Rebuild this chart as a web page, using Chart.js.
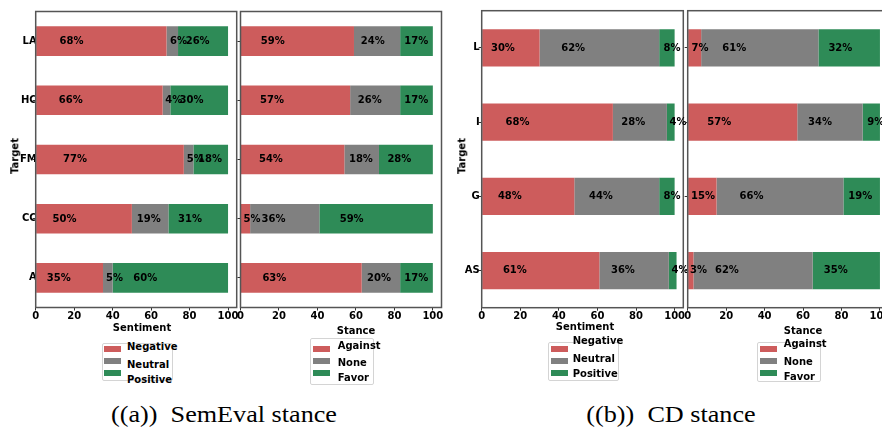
<!DOCTYPE html>
<html>
<head>
<meta charset="utf-8">
<script src="https://cdn.jsdelivr.net/npm/chart.js@4.4.1/dist/chart.umd.min.js"></script>
<style>
  html, body { margin: 0; padding: 0; background: #fff; }
  body { width: 882px; height: 428px; position: relative; overflow: hidden; font-family: "DejaVu Sans", sans-serif; }
  canvas { position: absolute; }
  .lbl { position: absolute; font-weight: bold; font-size: 10px; line-height: 12px; white-space: nowrap; color: #000; transform: scaleY(1.12); }
  .lbl.c { transform: translateX(-50%) scaleY(1.12); }
  .ytitle { position: absolute; font-weight: bold; font-size: 10px; line-height: 12px; white-space: nowrap; transform: translate(-50%, -50%) rotate(-90deg) scaleY(1.12); }
  .legend-box { position: absolute; border: 1px solid #d4d4d4; border-radius: 2px; background: #fff; }
  .patch { position: absolute; width: 17px; height: 6px; }
  .caption { position: absolute; font-family: "Liberation Serif", "Times New Roman", serif; font-size: 24px; line-height: 24px; white-space: nowrap; transform: translateX(-50%) scaleX(1.09); }
</style>
</head>
<body>
<canvas id="semSentiment" width="242" height="330" style="left:0px;top:0px"></canvas>
<canvas id="semStance" width="210" height="330" style="left:236px;top:0px"></canvas>
<canvas id="cdSentiment" width="250" height="330" style="left:440px;top:0px"></canvas>
<canvas id="cdStance" width="210" height="330" style="left:683px;top:0px"></canvas>

<!-- judul sumbu -->
<div class="ytitle" style="left:14.5px;top:156px">Target</div>
<div class="ytitle" style="left:462px;top:156px">Target</div>
<div class="lbl c" style="left:142px;top:322px">Sentiment</div>
<div class="lbl c" style="left:356px;top:325px">Stance</div>
<div class="lbl c" style="left:585px;top:321px">Sentiment</div>
<div class="lbl c" style="left:803px;top:325px">Stance</div>

<!-- legend (a) sentiment -->
<div class="legend-box" style="left:101.7px;top:342.7px;width:69px;height:36px"></div>
<div class="patch" style="left:104px;top:346px;background:#CD5C5C"></div>
<div class="patch" style="left:104px;top:357.7px;background:#808080"></div>
<div class="patch" style="left:104px;top:370px;background:#2E8B57"></div>
<div class="lbl" style="left:127px;top:341.3px">Negative</div>
<div class="lbl" style="left:127px;top:359px">Neutral</div>
<div class="lbl" style="left:127px;top:374px">Positive</div>

<!-- legend (a) stance -->
<div class="legend-box" style="left:310px;top:337.7px;width:62px;height:45px"></div>
<div class="patch" style="left:313px;top:346px;background:#CD5C5C"></div>
<div class="patch" style="left:313px;top:357.7px;background:#808080"></div>
<div class="patch" style="left:313px;top:370px;background:#2E8B57"></div>
<div class="lbl" style="left:337.7px;top:339.7px">Against</div>
<div class="lbl" style="left:337.7px;top:357.3px">None</div>
<div class="lbl" style="left:337.7px;top:372px">Favor</div>

<!-- legend (b) sentiment -->
<div class="legend-box" style="left:548.3px;top:342.3px;width:69px;height:37px"></div>
<div class="patch" style="left:551px;top:346px;background:#CD5C5C"></div>
<div class="patch" style="left:551px;top:357.7px;background:#808080"></div>
<div class="patch" style="left:551px;top:370px;background:#2E8B57"></div>
<div class="lbl" style="left:572.7px;top:335px">Negative</div>
<div class="lbl" style="left:572.7px;top:352.7px">Neutral</div>
<div class="lbl" style="left:572.7px;top:367.7px">Positive</div>

<!-- legend (b) stance -->
<div class="legend-box" style="left:757.3px;top:342.3px;width:62px;height:38px"></div>
<div class="patch" style="left:760px;top:346px;background:#CD5C5C"></div>
<div class="patch" style="left:760px;top:357.7px;background:#808080"></div>
<div class="patch" style="left:760px;top:370px;background:#2E8B57"></div>
<div class="lbl" style="left:783.7px;top:338.3px">Against</div>
<div class="lbl" style="left:783.7px;top:356px">None</div>
<div class="lbl" style="left:783.7px;top:371.3px">Favor</div>

<!-- caption -->
<div class="caption" style="left:223.5px;top:402px">((a))&nbsp; SemEval stance</div>
<div class="caption" style="left:670.5px;top:402px">((b))&nbsp; CD stance</div>

<script>
// Data
const semTargets = ["LA", "HC", "FM", "CC", "A"];
const semNegative = [68, 66, 77, 50, 35];
const semNeutral = [6, 4, 5, 19, 5];
const semPositive = [26, 30, 18, 31, 60];
const semAgainst = [59, 57, 54, 5, 63];
const semNone = [24, 26, 18, 36, 20];
const semFavor = [17, 17, 28, 59, 17];

const cdTargets = ["L", "I", "G", "AS"];
const cdNegative = [30, 68, 48, 61];
const cdNeutral = [62, 28, 44, 36];
const cdPositive = [8, 4, 8, 4];
const cdAgainst = [7, 57, 15, 3];
const cdNone = [61, 34, 66, 62];
const cdFavor = [32, 9, 19, 35];

const xTickValues = [0, 20, 40, 60, 80, 100];

const colors = ["#CD5C5C", "#808080", "#2E8B57"];
const fontBold = { family: "DejaVu Sans", weight: "bold", size: 10 };

// kotak bingkai di sekeliling area plot
const framePlugin = {
  id: "frame",
  afterDatasetsDraw(chart) {
    const a = chart.chartArea;
    const ctx = chart.ctx;
    ctx.save();
    ctx.strokeStyle = "#555";
    ctx.lineWidth = 1.5;
    ctx.strokeRect(a.left, a.top, a.right - a.left, a.bottom - a.top);
    ctx.restore();
  },
};

// teks persen di dalam tiap segmen bar
const percentPlugin = {
  id: "percent",
  afterDatasetsDraw(chart) {
    const ctx = chart.ctx;
    const xScale = chart.scales.x;
    chart.data.labels.forEach((lab, i) => {
      let start = 0;
      chart.data.datasets.forEach((ds, d) => {
        const v = ds.data[i];
        const bar = chart.getDatasetMeta(d).data[i];
        ctx.save();
        ctx.translate(xScale.getPixelForValue(start + v * 0.2 + 5), bar.y);
        ctx.scale(1, 1.12); // teks di gambar asli agak tinggi
        ctx.font = "bold 10px 'DejaVu Sans'";
        ctx.fillStyle = "#000";
        ctx.textAlign = "center";
        ctx.textBaseline = "middle";
        ctx.fillText(v + "%", 0, 0);
        ctx.restore();
        start += v;
      });
    });
  },
};

function makePanel(id, labels, series, names, yWidth, showLabels, labelPad, padding) {
  const ctx = document.getElementById(id).getContext("2d");
  return new Chart(ctx, {
    type: "bar",
    data: {
      labels: labels,
      datasets: series.map((data, i) => ({
        label: names[i],
        data: data,
        backgroundColor: colors[i],
        categoryPercentage: 0.5,
        barPercentage: 1.0,
      })),
    },
    options: {
      indexAxis: "y",
      responsive: false,
      animation: false,
      layout: { padding: padding },
      plugins: {
        legend: { display: false },
        tooltip: { enabled: false },
      },
      scales: {
        x: {
          type: "linear",
          stacked: true,
          min: 0,
          max: 104.5,
          afterBuildTicks: (s) => {
            s.ticks = xTickValues.map((v) => ({ value: v }));
          },
          afterFit: (s) => {
            s.height = 22;
          },
          border: { display: false },
          grid: { drawOnChartArea: false, tickLength: 3, color: "#333" },
          ticks: { color: "#000", font: fontBold, padding: 0, maxRotation: 0, autoSkip: false },
        },
        y: {
          type: "category",
          stacked: true,
          offset: true,
          afterFit: (s) => {
            s.width = yWidth;
          },
          border: { display: false },
          grid: { drawOnChartArea: false, offset: false, tickLength: 3, color: "#333" },
          ticks: { display: showLabels, color: "#000", font: fontBold, padding: labelPad },
        },
      },
    },
    plugins: [framePlugin, percentPlugin],
  });
}

const sentimentNames = ["Negative", "Neutral", "Positive"];
const stanceNames = ["Against", "None", "Favor"];

makePanel("semSentiment", semTargets, [semNegative, semNeutral, semPositive], sentimentNames,
  35.7, true, -4, { top: 11.5, right: 5.3, bottom: 0.5, left: 0 });
makePanel("semStance", semTargets, [semAgainst, semNone, semFavor], stanceNames,
  4.5, false, 0, { top: 11.5, right: 4.5, bottom: 0.5, left: 0 });
makePanel("cdSentiment", cdTargets, [cdNegative, cdNeutral, cdPositive], sentimentNames,
  41.7, true, -1, { top: 10.7, right: 6.7, bottom: 0.3, left: 0 });
makePanel("cdStance", cdTargets, [cdAgainst, cdNone, cdFavor], stanceNames,
  4.7, false, 0, { top: 10.7, right: 4.4, bottom: 0.3, left: 0 });
</script>
</body>
</html>
